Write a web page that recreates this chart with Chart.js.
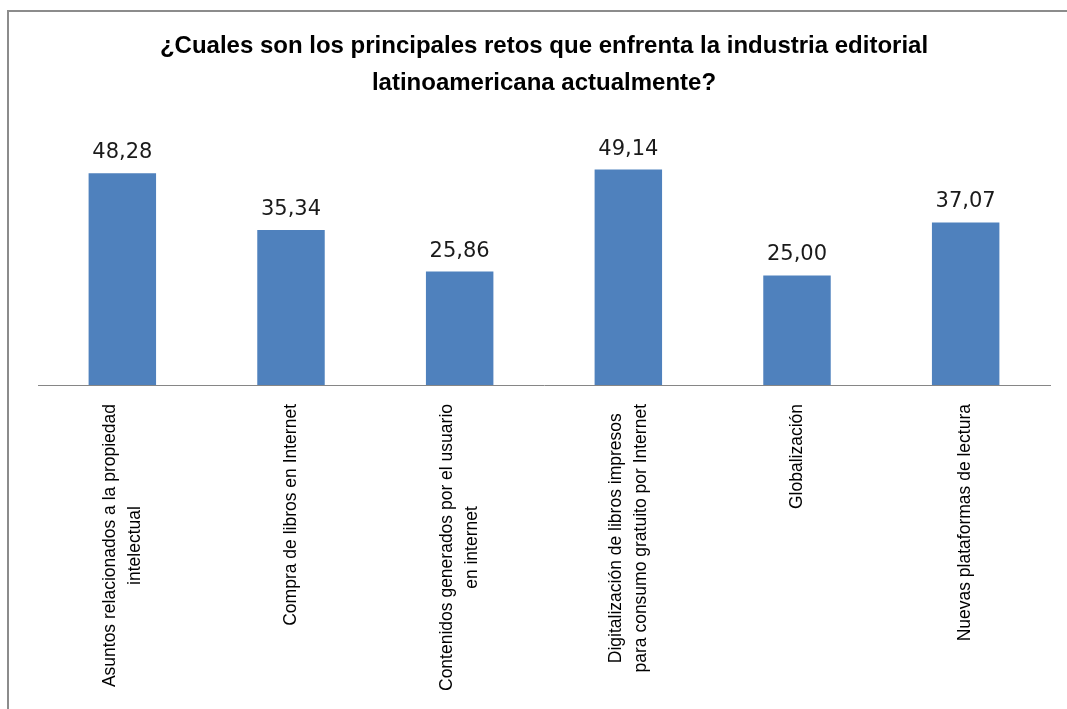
<!DOCTYPE html>
<html>
<head>
<meta charset="utf-8">
<script src="https://cdn.jsdelivr.net/npm/chart.js@4"></script>
<style>
  body { margin: 0; background: #fff; }
  #wrap { position: relative; width: 1067px; height: 709px; overflow: hidden; }
  #frame { position: absolute; left: 7px; top: 10px; width: 1100px; height: 760px; border: 2px solid #8c8c8c; box-sizing: border-box; }
  canvas { position: absolute; left: 0; top: 0; }
</style>
</head>
<body>
<div id="wrap">
  <div id="frame"></div>
  <canvas id="chart" width="1067" height="709"></canvas>
</div>
<script>
const categories = [
  ["Asuntos relacionados a la propiedad", "intelectual"],
  ["Compra de libros en Internet"],
  ["Contenidos generados por el usuario", "en internet"],
  ["Digitalización de libros impresos", "para consumo gratuito por Internet"],
  ["Globalización"],
  ["Nuevas plataformas de lectura"]
];
const values = [48.28, 35.34, 25.86, 49.14, 25.00, 37.07];
const titleLines = [
  "¿Cuales son los principales retos que enfrenta la industria editorial",
  "latinoamericana actualmente?"
];

// etiquetas de valor encima de cada barra
const valueLabels = {
  id: "valueLabels",
  afterDatasetsDraw(chart) {
    const ctx = chart.ctx;
    const meta = chart.getDatasetMeta(0);
    ctx.save();
    ctx.font = "21px 'DejaVu Sans'";
    ctx.fillStyle = "#1a1a1a";
    ctx.textAlign = "center";
    ctx.textBaseline = "alphabetic";
    meta.data.forEach(function (bar, i) {
      ctx.fillText(values[i].toFixed(2).replace(".", ","), bar.x, bar.y - 15);
    });
    ctx.restore();
  }
};

// etiquetas del eje x giradas, con las lineas centradas entre si
const rotatedLabels = {
  id: "rotatedLabels",
  afterDraw(chart) {
    const ctx = chart.ctx;
    const xs = chart.scales.x;
    const lineH = 25;
    ctx.save();
    ctx.font = "17.5px 'Liberation Sans'";
    ctx.fillStyle = "#000";
    ctx.textAlign = "center";
    ctx.textBaseline = "middle";
    categories.forEach(function (lines, i) {
      const x = xs.getPixelForValue(i);
      let maxW = 0;
      lines.forEach(function (l) { maxW = Math.max(maxW, ctx.measureText(l).width); });
      const yMid = xs.top + 19 + maxW / 2;
      ctx.save();
      ctx.translate(x, yMid);
      ctx.rotate(-Math.PI / 2);
      lines.forEach(function (l, j) {
        const off = (j - (lines.length - 1) / 2) * lineH;
        ctx.fillText(l, 0, off);
      });
      ctx.restore();
    });
    ctx.restore();
  }
};

new Chart(document.getElementById("chart").getContext("2d"), {
  type: "bar",
  data: {
    labels: categories.map(function (l) { return l.join(" "); }),
    datasets: [{
      data: values,
      backgroundColor: "#4F81BD",
      categoryPercentage: 0.4,
      barPercentage: 1.0
    }]
  },
  options: {
    responsive: false,
    animation: false,
    layout: { padding: { left: 38, right: 17, top: 0, bottom: 0 } },
    plugins: {
      legend: { display: false },
      tooltip: { enabled: false },
      title: {
        display: true,
        text: titleLines,
        color: "#000",
        font: { family: "'Liberation Sans'", size: 24, weight: "bold", lineHeight: 1.54 },
        padding: { top: 28, bottom: 20 }
      }
    },
    scales: {
      y: { display: false, min: 0, max: 60 },
      x: {
        grid: { display: false, drawTicks: false },
        border: { display: true, color: "#868686", width: 1 },
        ticks: { display: false },
        afterFit: function (scale) { scale.height = 324; }
      }
    }
  },
  plugins: [valueLabels, rotatedLabels]
});
</script>
</body>
</html>
